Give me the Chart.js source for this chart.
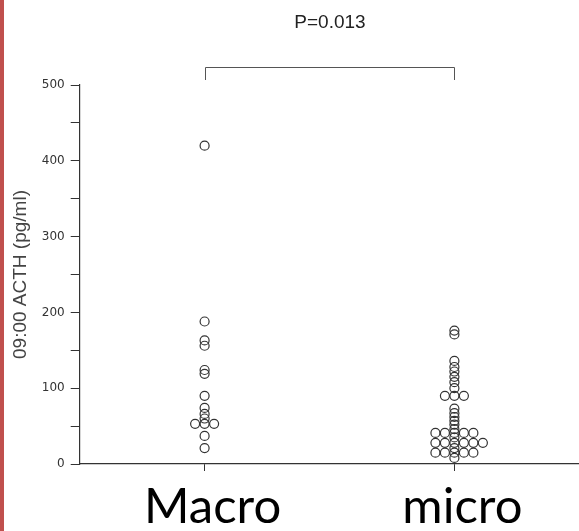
<!DOCTYPE html>
<html>
<head>
<meta charset="utf-8">
<script src="https://cdn.jsdelivr.net/npm/chart.js@4/dist/chart.umd.min.js"></script>
<style>
  html, body { margin: 0; padding: 0; background: #fff; }
  #wrap { position: relative; width: 579px; height: 531px; overflow: hidden; }
  #edge { position: absolute; left: 0; top: 0; width: 4px; height: 531px; background: #c0504d; z-index: 2; }
  canvas { position: absolute; left: 0; top: 0; }
</style>
</head>
<body>
<div id="wrap">
  <div id="edge"></div>
  <canvas id="chart" width="585" height="531"></canvas>
</div>
<script>
// groups on the x axis
var groups = ['Macro', 'micro'];

// 09:00 ACTH values, pg/ml
var macroValues = [420, 188, 163, 156, 124, 119, 90, 74, 66, 60, 53, 53, 53, 37, 21];
var microValues = [176, 171, 136, 128, 122, 115, 108, 100, 90, 90, 90,
                   73, 67, 62, 57, 52, 46, 41, 41, 41, 41, 41, 35,
                   28, 28, 28, 28, 28, 28, 21, 15, 15, 15, 15, 15, 8];

var yMax = 500;
var yStep = 50;
var yLabelStep = 100;
var pText = 'P=0.013';
var yTitle = '09:00 ACTH (pg/ml)';

// equal values sit side by side, like the original dot plot
var sideOrder = [0, -1, 1, -2, 2, 3, -3, 4, -4];
var sideGap = 0.038;

function spread(values, center) {
    var seen = {};
    return values.map(function (v) {
        var n = seen[v] || 0;
        seen[v] = n + 1;
        return { x: center + sideOrder[n] * sideGap, y: v };
    });
}

var inkColor = '#333';

// significance bracket between the two groups, with the P value above it
var bracket = {
    id: 'bracket',
    afterDraw: function (chart) {
        var ctx = chart.ctx;
        var xs = chart.scales.x;
        var x1 = Math.round(xs.getPixelForValue(1)) + 0.5;
        var x2 = Math.round(xs.getPixelForValue(2)) + 0.5;
        var yTop = Math.round(chart.chartArea.top - 18) + 0.5;
        var yEnd = chart.chartArea.top - 5;
        ctx.save();
        ctx.strokeStyle = '#555';
        ctx.lineWidth = 1;
        ctx.beginPath();
        ctx.moveTo(x1, yEnd);
        ctx.lineTo(x1, yTop);
        ctx.lineTo(x2, yTop);
        ctx.lineTo(x2, yEnd);
        ctx.stroke();

        ctx.fillStyle = '#222';
        ctx.font = '19px "Liberation Sans"';
        ctx.textAlign = 'center';
        ctx.textBaseline = 'middle';
        ctx.fillText(pText, (x1 + x2) / 2, 23);
        ctx.restore();
    }
};

var ds = [macroValues, microValues].map(function (vals, i) {
    return {
        label: groups[i],
        data: spread(vals, i + 1),
        pointRadius: 4.5,
        pointHoverRadius: 4.5,
        pointBorderWidth: 1.2,
        pointBorderColor: inkColor,
        pointBackgroundColor: 'rgba(0,0,0,0)',
        showLine: false
    };
});

new Chart(document.getElementById('chart'), {
    type: 'scatter',
    data: { datasets: ds },
    plugins: [bracket],
    options: {
        responsive: false,
        animation: false,
        layout: { padding: { left: 0, right: 0, top: 85, bottom: -13 } },
        plugins: {
            legend: { display: false },
            tooltip: { enabled: false }
        },
        scales: {
            x: {
                type: 'linear',
                min: 0.5,
                max: 2.5,
                afterBuildTicks: function (axis) {
                    axis.ticks = groups.map(function (g, i) { return { value: i + 1 }; });
                },
                ticks: {
                    callback: function (v) { return groups[v - 1]; },
                    color: '#000',
                    font: { family: 'Lato', size: 49, lineHeight: 1 },
                    padding: 12,
                    labelOffset: 8,
                    maxRotation: 0
                },
                grid: { drawOnChartArea: false, drawTicks: true, tickLength: 7, color: inkColor },
                border: { color: inkColor, width: 1.2 }
            },
            y: {
                min: 0,
                max: yMax,
                ticks: {
                    stepSize: yStep,
                    callback: function (v) { return v % yLabelStep === 0 ? v : ''; },
                    color: '#333',
                    font: { family: 'DejaVu Sans', size: 12 },
                    padding: 6
                },
                grid: { drawOnChartArea: false, drawTicks: true, tickLength: 9, color: inkColor },
                border: { color: inkColor, width: 1.2 },
                title: {
                    display: true,
                    text: yTitle,
                    color: '#444',
                    font: { family: 'Liberation Sans', size: 19 },
                    padding: { top: 9, bottom: 4 }
                }
            }
        }
    }
});
</script>
</body>
</html>
